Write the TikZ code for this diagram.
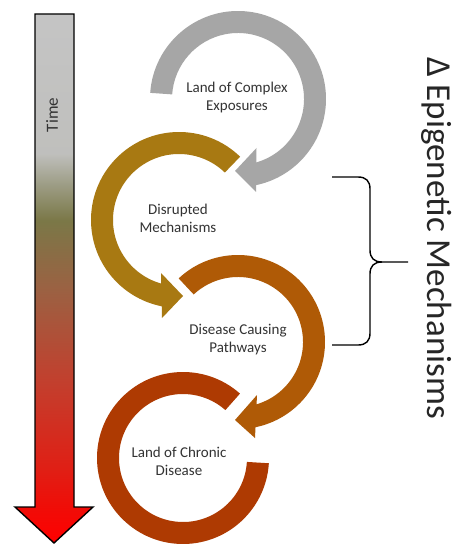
\documentclass[tikz,border=0pt]{standalone}
\usepackage{fontspec}
\setmainfont{Carlito}
\usetikzlibrary{calc}

\definecolor{ringgray}{HTML}{A6A6A6}
\definecolor{ringgold}{HTML}{A87912}
\definecolor{ringorange}{HTML}{AF5A06}
\definecolor{ringrust}{HTML}{AE3A02}
\definecolor{labeltext}{HTML}{333333}

% colour run of the time arrow, red at the tip, grey at the top
\pgfdeclareverticalshading{timeshade}{100bp}{%
  rgb(0bp)=(1,0,0); rgb(25bp)=(1,0,0);
  rgb(28.4bp)=(0.94,0.05,0.03);
  rgb(31.9bp)=(0.88,0.12,0.08);
  rgb(40.4bp)=(0.76,0.25,0.18);
  rgb(48.9bp)=(0.61,0.38,0.26);
  rgb(55.5bp)=(0.48,0.47,0.28);
  rgb(59bp)=(0.62,0.62,0.53);
  rgb(61.8bp)=(0.75,0.75,0.74);
  rgb(75bp)=(0.77,0.77,0.77); rgb(100bp)=(0.77,0.77,0.77)}

% ring segment: #1 centre, #2 outer radius, #3 inner radius,
% #4 start angle, #5 end angle, #6 colour
\newcommand{\ringbody}[6]{%
  \fill[#6] ($(#1)+(#4:#2)$) arc[start angle=#4, end angle=#5, radius=#2]
    -- ($(#1)+(#5:#3)$) arc[start angle=#5, end angle=#4, radius=#3] -- cycle;}

\tikzset{
  ringlabel/.style={text=labeltext, align=center, inner sep=0pt,
    font=\fontsize{15}{18}\selectfont},
  bracestroke/.style={line width=1.4pt, black, line join=round}
}

\begin{document}
\begin{tikzpicture}[x=1pt, y=1pt]
\useasboundingbox (0,0) rectangle (465,-545);
\fill[white] (0,0) rectangle (465,-545);

% time arrow
\shadedraw[shading=timeshade, draw=black, line width=1.4pt, line join=miter]
  (35,-14) -- (74,-14) -- (74,-507) -- (93,-507) -- (54,-543)
  -- (15,-507) -- (35,-507) -- cycle;
\node[rotate=90, text=labeltext, font=\fontsize{17}{20}\selectfont]
  (time) at (52,-115) {Time};

% centres of the four rings
\coordinate (cExpo) at (238,-99);
\coordinate (cMech) at (179,-220);
\coordinate (cPath) at (238,-342);
\coordinate (cChron) at (183,-458);

% exposures ring, clockwise, head pointing left
\ringbody{cExpo}{88}{66}{176}{-79}{ringgray}
\fill[ringgray] (256.5,-148) -- (235,-171) -- (256,-192) -- cycle;

% mechanisms ring, anticlockwise, head pointing right
\ringbody{cMech}{88}{66}{46}{260}{ringgold}
\fill[ringgold] (161,-273) -- (183,-296) -- (162,-318) -- cycle;

% pathways ring, clockwise, head pointing left
\ringbody{cPath}{87}{65}{133}{-79}{ringorange}
\fill[ringorange] (257,-395) -- (235,-420) -- (255,-438) -- cycle;

% chronic disease ring, open at the right
\ringbody{cChron}{86}{64}{48.5}{356.5}{ringrust}

\node[ringlabel] (expo) at (237,-98) {Land of Complex\\Exposures};
\node[ringlabel] (mech) at (178,-218) {Disrupted\\Mechanisms};
\node[ringlabel] (path) at (238,-340) {Disease Causing\\Pathways};
\node[ringlabel] (chron) at (179,-461) {Land of Chronic\\Disease};

% brace spanning the middle two stages
\coordinate (braceTop) at (332,-177);
\coordinate (braceBot) at (332,-345);
\coordinate (braceTip) at (408,-262);
\draw[bracestroke] (braceTop) -- (358,-177) .. controls (366,-177) and (370,-181) .. (370,-189)
  -- (370,-250) .. controls (370,-258) and (374,-262) .. (382,-262) -- (braceTip);
\draw[bracestroke] (braceBot) -- (358,-345) .. controls (366,-345) and (370,-341) .. (370,-333)
  -- (370,-274) .. controls (370,-266) and (374,-262) .. (382,-262);

\node[rotate=-90, text=black!85, font=\fontsize{35}{40}\selectfont]
  (epi) at (437,-238) {Δ Epigenetic Mechanisms};
\end{tikzpicture}
\end{document}
